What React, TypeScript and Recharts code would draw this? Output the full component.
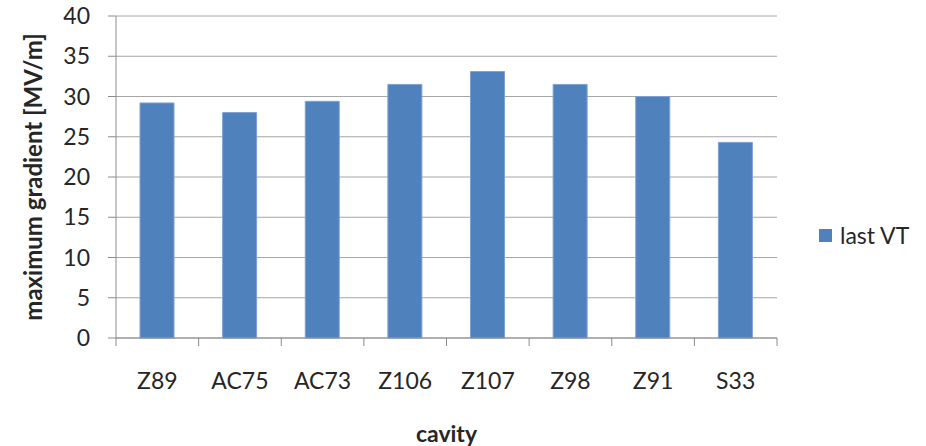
import { BarChart, Bar, XAxis, YAxis, CartesianGrid, Label } from 'recharts'

const cavities = ['Z89', 'AC75', 'AC73', 'Z106', 'Z107', 'Z98', 'Z91', 'S33']
const lastVT = [29.2, 28.0, 29.4, 31.5, 33.1, 31.5, 30.0, 24.3]
const yTicks = [0, 5, 10, 15, 20, 25, 30, 35, 40]

const data = cavities.map((cavity, i) => ({ cavity, lastVT: lastVT[i] }))

const FONT = 'Lato, "Open Sans", sans-serif'
const BAR = '#4f81bd'
const TEXT = '#262626'
const AXIS = '#8c8c8c'
const TICK_SIZE = 8
const TICK_MARGIN = 27

// category label plus a tick mark on the category boundary to its left
// (and one on the right edge after the last category)
function CavityTick(props: any) {
  const { x, y, payload, index } = props
  const half = payload.offset ?? 0
  const top = y - TICK_SIZE - TICK_MARGIN
  const last = index === cavities.length - 1
  return (
    <g>
      <line x1={x - half} x2={x - half} y1={top} y2={top + TICK_SIZE} stroke={AXIS} />
      {last && <line x1={x + half} x2={x + half} y1={top} y2={top + TICK_SIZE} stroke={AXIS} />}
      <text x={x} y={y} dy="0.71em" textAnchor="middle" fill={TEXT} fontSize={23} fontFamily={FONT}>
        {payload.value}
      </text>
    </g>
  )
}

// series key drawn to the right of the plot area
function LegendBox() {
  return (
    <div
      style={{
        position: 'absolute',
        left: 819,
        top: 221,
        display: 'flex',
        alignItems: 'center',
        fontFamily: FONT,
        fontSize: 23,
        color: TEXT,
      }}
    >
      <span style={{ width: 13, height: 13, background: BAR, display: 'inline-block', marginRight: 8 }} />
      <span>last VT</span>
    </div>
  )
}

export default function App() {
  return (
    <div style={{ position: 'relative', width: 926, height: 446, background: '#fff' }}>
      <style>{'body{margin:0}'}</style>
      <BarChart
        width={926}
        height={446}
        data={data}
        margin={{ top: 16, right: 149, left: 0, bottom: 0 }}
        barSize={34}
      >
        <CartesianGrid vertical={false} stroke="#a6a6a6" />
        <XAxis
          dataKey="cavity"
          height={108}
          stroke={AXIS}
          tickLine={false}
          tickSize={TICK_SIZE}
          tickMargin={TICK_MARGIN}
          tick={<CavityTick />}
          interval={0}
        >
          <Label
            value="cavity"
            position="center"
            dy={42}
            style={{ fill: TEXT, fontSize: 23, fontWeight: 700, fontFamily: FONT }}
          />
        </XAxis>
        <YAxis
          width={116}
          domain={[0, 40]}
          ticks={yTicks}
          stroke={AXIS}
          tickSize={8}
          tickMargin={18}
          tick={{ fill: TEXT, fontSize: 23, fontFamily: FONT }}
        >
          <Label
            value="maximum gradient [MV/m]"
            angle={-90}
            position="center"
            dx={-25}
            style={{ fill: TEXT, fontSize: 24, fontWeight: 700, fontFamily: FONT, textAnchor: 'middle' }}
          />
        </YAxis>
        <Bar dataKey="lastVT" name="last VT" fill={BAR} stroke="#7fa1d2" strokeWidth={1} isAnimationActive={false} />
      </BarChart>
      <LegendBox />
    </div>
  )
}
